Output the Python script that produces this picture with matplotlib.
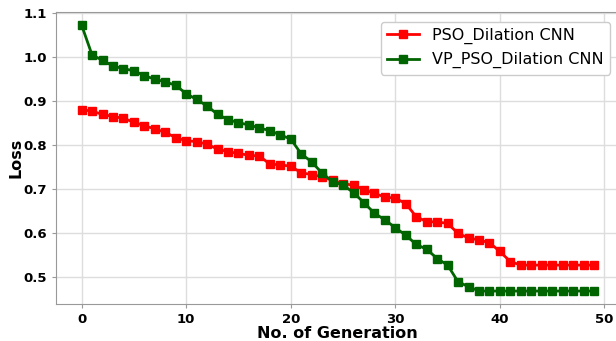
#Loss of the two CNN variants over generations
import matplotlib
matplotlib.use("Agg")
import matplotlib.pyplot as plt
import numpy as np

generations = np.arange(0, 50)

pso_loss = [0.881, 0.877, 0.870, 0.865, 0.861, 0.852, 0.844, 0.837, 0.829, 0.817,
            0.810, 0.808, 0.802, 0.791, 0.785, 0.781, 0.777, 0.775, 0.757, 0.755,
            0.752, 0.737, 0.733, 0.728, 0.720, 0.712, 0.709, 0.699, 0.690, 0.682,
            0.679, 0.667, 0.637, 0.626, 0.625, 0.622, 0.599, 0.589, 0.584, 0.578,
            0.558, 0.535, 0.527, 0.527, 0.527, 0.527, 0.527, 0.527, 0.527, 0.527]

vp_pso_loss = [1.073, 1.005, 0.993, 0.980, 0.974, 0.969, 0.958, 0.950, 0.944, 0.936,
               0.917, 0.904, 0.889, 0.870, 0.858, 0.851, 0.846, 0.839, 0.833, 0.823,
               0.814, 0.780, 0.762, 0.736, 0.717, 0.709, 0.692, 0.669, 0.645, 0.630,
               0.612, 0.595, 0.574, 0.563, 0.542, 0.527, 0.489, 0.478, 0.468, 0.468,
               0.468, 0.468, 0.468, 0.468, 0.468, 0.468, 0.468, 0.468, 0.468, 0.468]

series_names = ["PSO_Dilation CNN", "VP_PSO_Dilation CNN"]

fig = plt.figure(figsize=(6.16, 3.41), dpi=100)
#axes runs a bit past the right edge, like the cropped original
ax = fig.add_axes([0.0909, 0.1085, 0.915, 0.8565])

ax.plot(generations, pso_loss, c="#ff0000", marker="s", markersize=5.5,
        linewidth=2, label=series_names[0])
ax.plot(generations, vp_pso_loss, c="#006400", marker="s", markersize=5.5,
        linewidth=2, label=series_names[1])

ax.set_xlim(-2.45, 51.45)
ax.set_ylim(0.4385, 1.103)
ax.set_xticks([0, 10, 20, 30, 40, 50])
ax.set_yticks([0.5, 0.6, 0.7, 0.8, 0.9, 1.0, 1.1])
ax.grid(True, color="#dddddd", linewidth=1)
ax.set_axisbelow(True)

for s in ax.spines.values():
    s.set_color("#999999")
ax.tick_params(colors="#999999", labelcolor="black", length=3)
for lbl in ax.get_xticklabels() + ax.get_yticklabels():
    lbl.set_fontweight("bold")
    lbl.set_fontsize(9.5)

ax.set_xlabel("No. of Generation", fontsize=11.5, fontweight="bold", labelpad=0)
ax.set_ylabel("Loss", fontsize=11.5, fontweight="bold", labelpad=0)

ax.legend(loc="upper right", fontsize=11.5, framealpha=1, borderaxespad=0.6)

plt.savefig("out.png", dpi=100)
